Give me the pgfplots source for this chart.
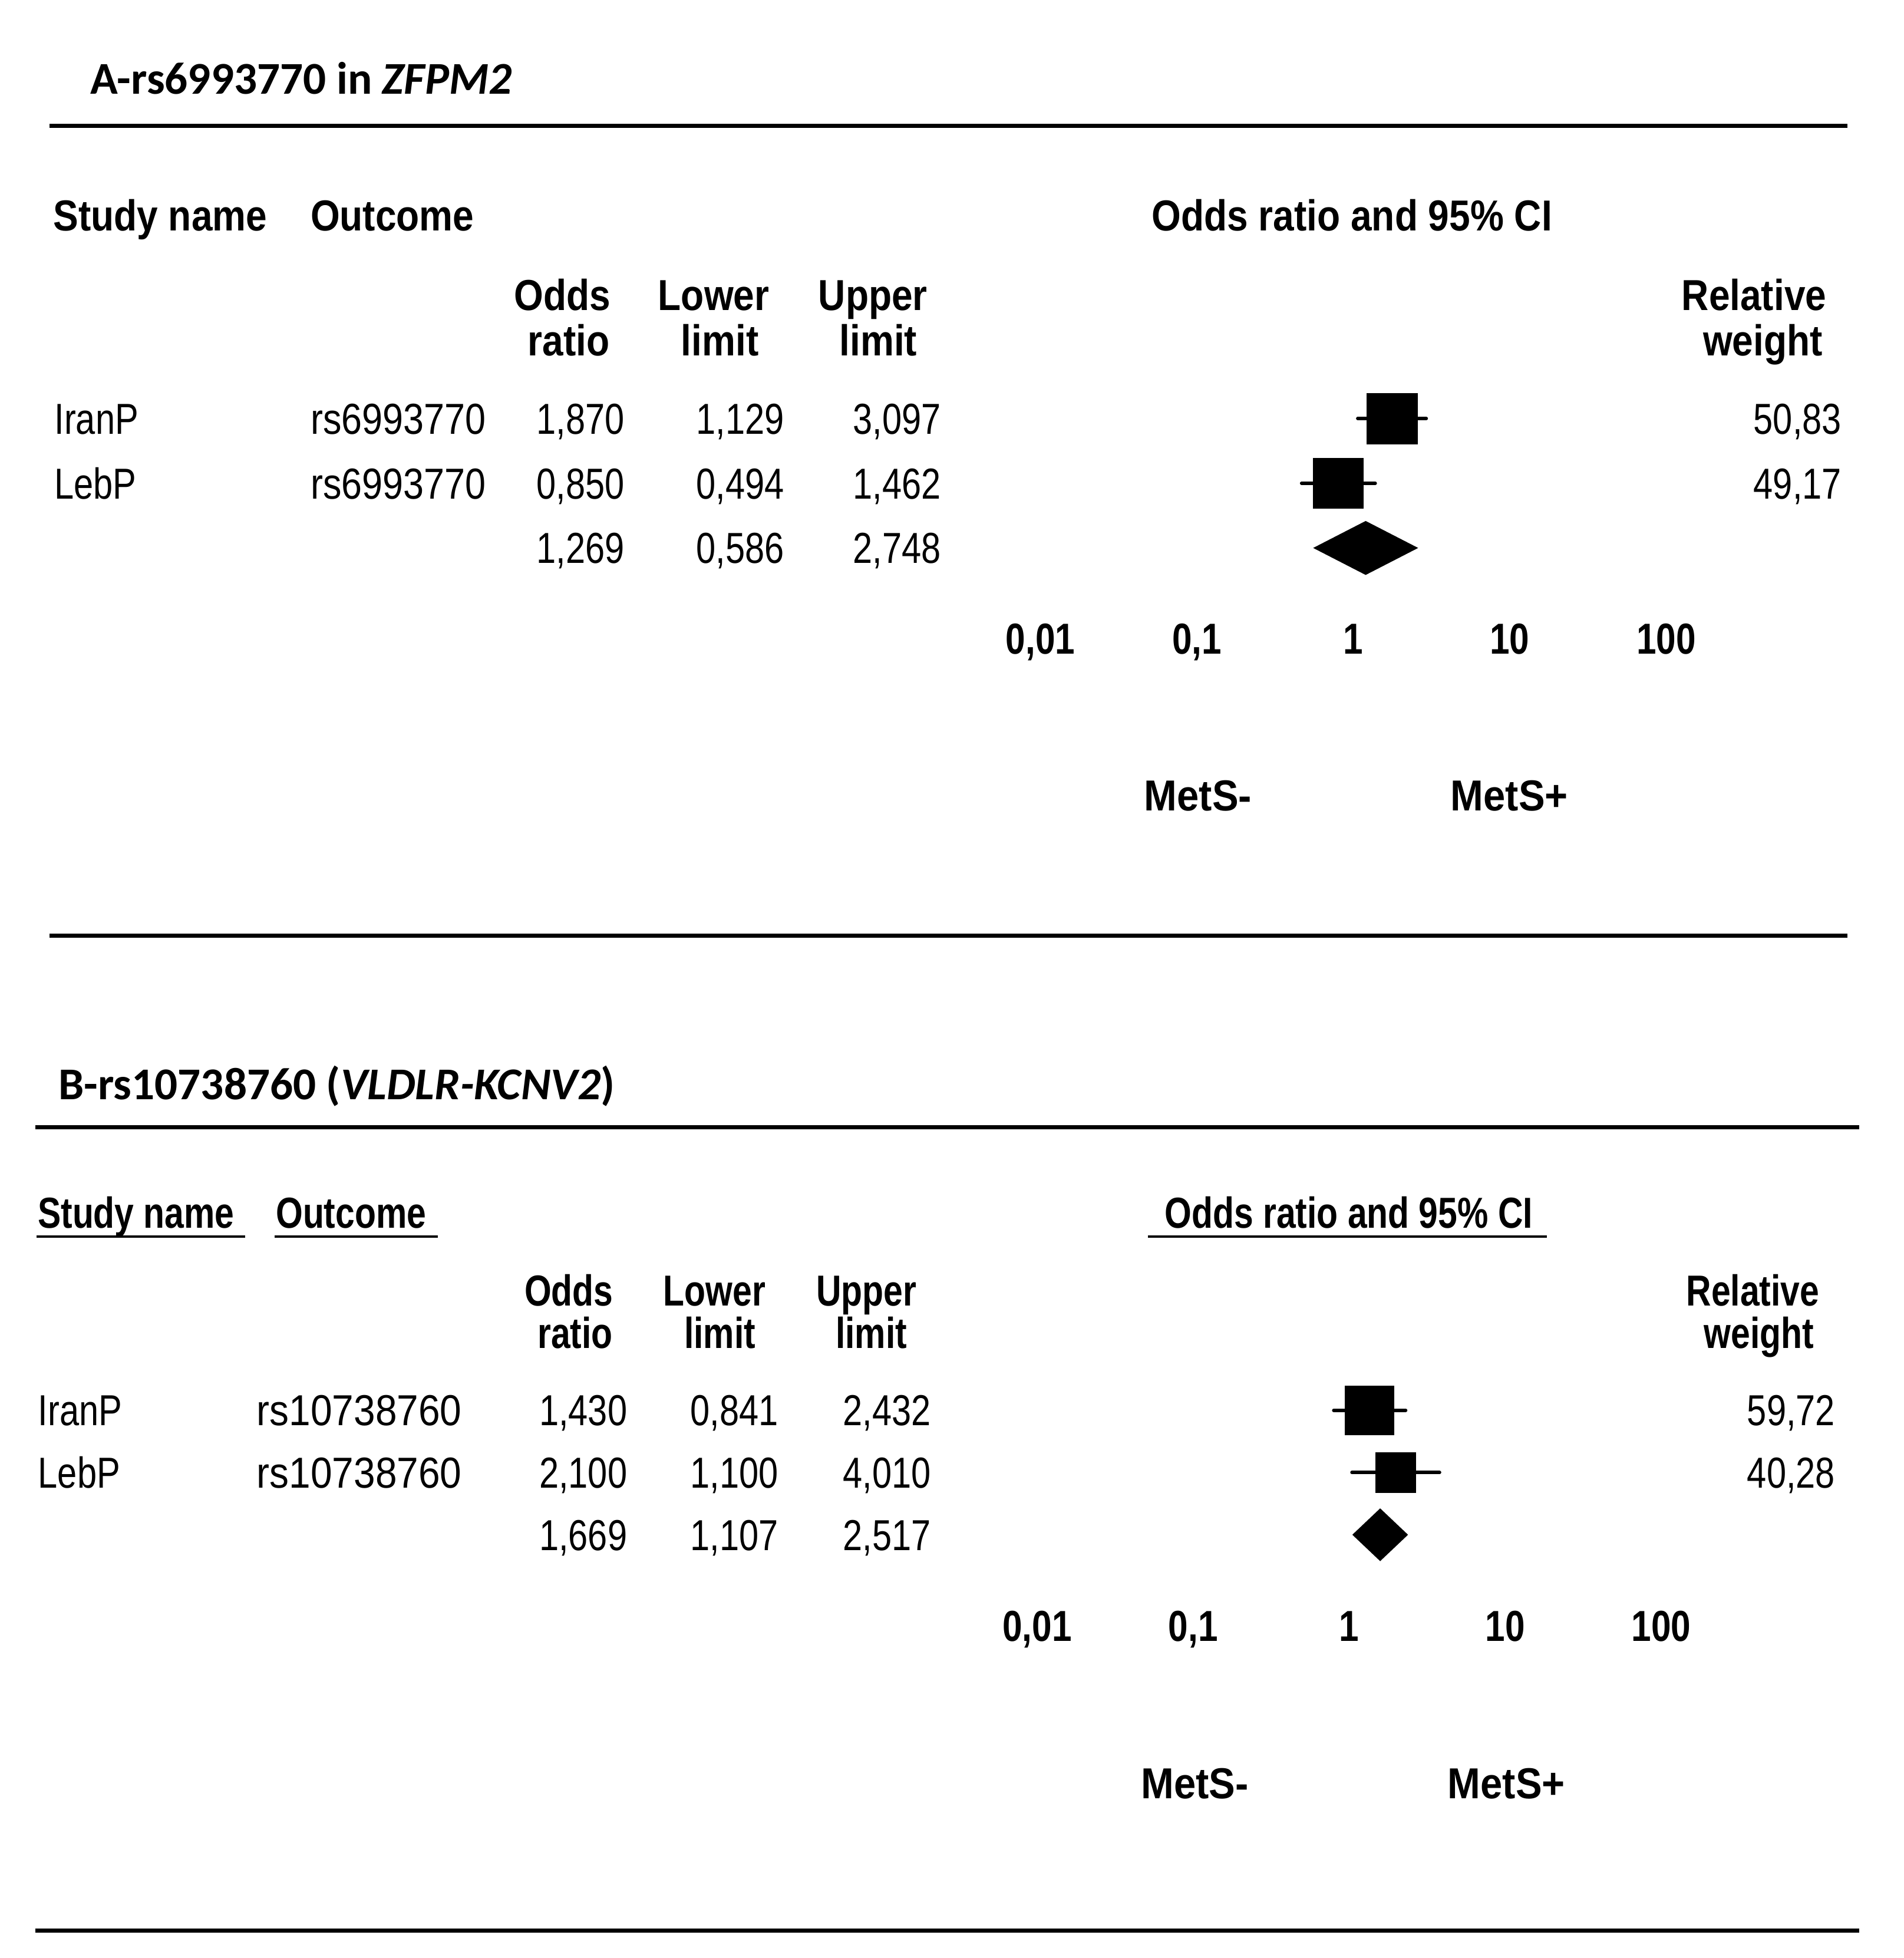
\documentclass[border=0pt]{standalone}
\usepackage{pgfplots}
\pgfplotsset{compat=1.18}
\usepackage{fontspec}
\setmainfont{Liberation Sans}
\newfontfamily\fr[FakeStretch=0.81]{Liberation Sans}
\newfontfamily\foA[FakeStretch=0.855]{Liberation Sans}
\newfontfamily\foB[FakeStretch=0.895]{Liberation Sans}
\newfontfamily\fbA[FakeStretch=0.87]{Liberation Sans}
\newfontfamily\fbB[FakeStretch=0.80]{Liberation Sans}
\newfontfamily\ftk[FakeStretch=0.82]{Liberation Sans}
\newfontfamily\fm[FakeStretch=0.91]{Liberation Sans}
\newfontfamily\ttl{Carlito}
\newcommand\sz{\fontsize{17.25bp}{20bp}\selectfont}
\newcommand\tsz{\fontsize{18.1bp}{21bp}\selectfont}

\tikzset{
  nl/.style={anchor=base west,inner sep=0pt},
  nr/.style={anchor=base east,inner sep=0pt},
  nc/.style={anchor=base,inner sep=0pt},
}

\begin{document}
\begin{tikzpicture}
\path[use as bounding box] (0,0) rectangle (757.5bp,-779bp);

\begin{scope}[x=0.5bp,y=-0.5bp]
% rules
\draw[line width=1.65bp] (39.5,100) -- (1470.4,100);
\draw[line width=1.65bp] (39.5,744.6) -- (1470.4,744.6);
\draw[line width=1.65bp] (28,897) -- (1479.8,897);
\draw[line width=1.65bp] (28,1536) -- (1479.8,1536);
\draw[line width=0.75bp] (29,984) -- (195,984);
\draw[line width=0.75bp] (218.5,984) -- (348.4,984);
\draw[line width=0.75bp] (913.7,984) -- (1231.1,984);

% panel A
\node[nl,font=\ttl\bfseries\tsz] at (71.4,75) {A-rs6993770 in \textit{ZFPM2}};
\begin{scope}[every node/.append style={font=\fbA\bfseries\sz}]
\node[nl] at (42,183.8) {Study name};
\node[nl] at (246.8,183.8) {Outcome};
\node[nc] at (1076,183.8) {Odds ratio and 95\% CI};
\node[nc] at (447.5,246.7) {Odds};
\node[nc] at (452.6,283.1) {ratio};
\node[nc] at (568,246.7) {Lower};
\node[nc] at (573,283.1) {limit};
\node[nc] at (694.8,246.7) {Upper};
\node[nc] at (699,283.1) {limit};
\node[nc] at (1396,246.7) {Relative};
\node[nc] at (1403,283.1) {weight};
\end{scope}
\begin{scope}[every node/.append style={font=\fr\sz}]
\node[nl] at (43,345.3) {IranP};
\node[nl,font=\foA\sz] at (246.8,345.3) {rs6993770};
\node[nr] at (497.5,345.3) {1,870};
\node[nr] at (624.6,345.3) {1,129};
\node[nr] at (749.3,345.3) {3,097};
\node[nr] at (1466,345.3) {50,83};
\node[nl] at (43,396.8) {LebP};
\node[nl,font=\foA\sz] at (246.8,396.8) {rs6993770};
\node[nr] at (497.5,396.8) {0,850};
\node[nr] at (624.6,396.8) {0,494};
\node[nr] at (749.3,396.8) {1,462};
\node[nr] at (1466,396.8) {49,17};
\node[nr] at (497.5,448.3) {1,269};
\node[nr] at (624.6,448.3) {0,586};
\node[nr] at (749.3,448.3) {2,748};
\end{scope}
\node[nc,font=\fm\bfseries\sz] at (953.5,645.3) {MetS-};
\node[nc,font=\fm\bfseries\sz] at (1201.3,645.3) {MetS+};

% panel B
\node[nl,font=\ttl\bfseries\tsz] at (46.2,875) {B-rs10738760 (\textit{VLDLR-KCNV2})};
\begin{scope}[every node/.append style={font=\fbB\bfseries\sz}]
\node[nl] at (29.7,977) {Study name};
\node[nl] at (219.2,977) {Outcome};
\node[nc] at (1073.4,977) {Odds ratio and 95\% CI};
\node[nc] at (452.7,1039) {Odds};
\node[nc] at (457.7,1073) {ratio};
\node[nc] at (568.6,1039) {Lower};
\node[nc] at (573,1073) {limit};
\node[nc] at (689.5,1039) {Upper};
\node[nc] at (693.5,1073) {limit};
\node[nc] at (1395,1039) {Relative};
\node[nc] at (1400,1073) {weight};
\end{scope}
\begin{scope}[every node/.append style={font=\fr\sz}]
\node[nl] at (30,1134.5) {IranP};
\node[nl,font=\foB\sz] at (204,1134.5) {rs10738760};
\node[nr] at (499.5,1134.5) {1,430};
\node[nr] at (619.9,1134.5) {0,841};
\node[nr] at (741.3,1134.5) {2,432};
\node[nr] at (1460.9,1134.5) {59,72};
\node[nl] at (30,1184) {LebP};
\node[nl,font=\foB\sz] at (204,1184) {rs10738760};
\node[nr] at (499.5,1184) {2,100};
\node[nr] at (619.9,1184) {1,100};
\node[nr] at (741.3,1184) {4,010};
\node[nr] at (1460.9,1184) {40,28};
\node[nr] at (499.5,1233.5) {1,669};
\node[nr] at (619.9,1233.5) {1,107};
\node[nr] at (741.3,1233.5) {2,517};
\end{scope}
\node[nc,font=\fm\bfseries\sz] at (951,1431) {MetS-};
\node[nc,font=\fm\bfseries\sz] at (1199,1431) {MetS+};
\end{scope}

% plot A
\begin{axis}[
  anchor=south west, at={(412.5bp,-243.75bp)},
  scale only axis, width=249bp, height=103bp,
  xmode=log, xmin=0.01, xmax=100,
  ymin=0, ymax=4, y dir=reverse,
  axis line style={draw=none},
  major tick length=0pt, minor tick length=0pt,
  ytick=\empty,
  xtick={0.01,0.1,1,10,100},
  xticklabels={0{,}01, 0{,}1, 1, 10, 100},
  xticklabel style={font=\ftk\bfseries\sz, anchor=base, inner sep=0pt, xshift=1.5bp, yshift=-16.35bp},
  clip=false]
\addplot[black, line width=1.35bp, line cap=round] coordinates {(1.129,1) (3.097,1)};
\addplot[black, line width=1.35bp, line cap=round] coordinates {(0.494,2) (1.462,2)};
\addplot[only marks, mark=square*, mark size=10.07bp, mark options={fill=black, draw=black, line width=0.2bp}] coordinates {(1.870,1)};
\addplot[only marks, mark=square*, mark size=9.95bp, mark options={fill=black, draw=black, line width=0.2bp}] coordinates {(0.850,2)};
\addplot[fill=black, draw=none] coordinates {(0.586,3) (1.269,2.583) (2.748,3) (1.269,3.417) (0.586,3)};
\end{axis}

% plot B
\begin{axis}[
  anchor=south west, at={(411.2bp,-635.35bp)},
  scale only axis, width=248.4bp, height=99bp,
  xmode=log, xmin=0.01, xmax=100,
  ymin=0, ymax=4, y dir=reverse,
  axis line style={draw=none},
  major tick length=0pt, minor tick length=0pt,
  ytick=\empty,
  xtick={0.01,0.1,1,10,100},
  xticklabels={0{,}01, 0{,}1, 1, 10, 100},
  xticklabel style={font=\ftk\bfseries\sz, anchor=base, inner sep=0pt, xshift=1.5bp, yshift=-17.65bp},
  clip=false]
\addplot[black, line width=1.35bp, line cap=round] coordinates {(0.841,1) (2.432,1)};
\addplot[black, line width=1.35bp, line cap=round] coordinates {(1.100,2) (4.010,2)};
\addplot[only marks, mark=square*, mark size=9.72bp, mark options={fill=black, draw=black, line width=0.2bp}] coordinates {(1.430,1)};
\addplot[only marks, mark=square*, mark size=7.95bp, mark options={fill=black, draw=black, line width=0.2bp}] coordinates {(2.100,2)};
\addplot[fill=black, draw=none] coordinates {(1.107,3) (1.669,2.576) (2.517,3) (1.669,3.424) (1.107,3)};
\end{axis}
\end{tikzpicture}
\end{document}
